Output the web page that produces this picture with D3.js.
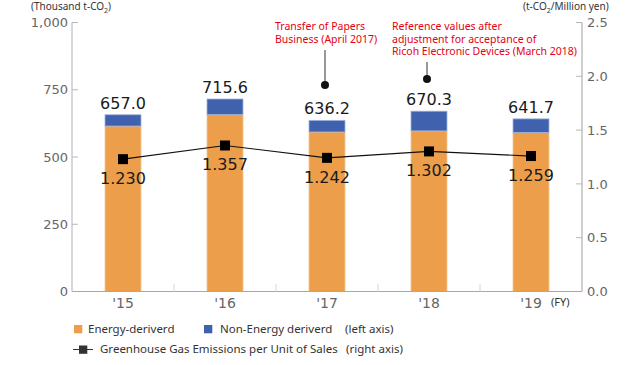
<!DOCTYPE html>
<html><head><meta charset="utf-8">
<script src="https://cdn.jsdelivr.net/npm/d3@7"></script>
<style>body{margin:0;background:#fff}svg{display:block}</style>
</head><body><svg id="c" width="640" height="365"></svg>
<script>
const categories = ["'15","'16","'17","'18","'19"];
const energy = [615.0, 657.5, 593.0, 597.0, 591.0];
const nonEnergy = [42.0, 58.1, 43.2, 73.3, 50.7];
const totals = [657.0, 715.6, 636.2, 670.3, 641.7];
const intensity = [1.230, 1.357, 1.242, 1.302, 1.259];
const leftTicks = [0, 250, 500, 750, 1000];
const rightTicks = [0, 0.5, 1.0, 1.5, 2.0, 2.5];
const annotations = [
  {cat: "'17", lines: ["Transfer of Papers", "Business (April 2017)"]},
  {cat: "'18", lines: ["Reference values after", "adjustment for acceptance of", "Ricoh Electronic Devices (March 2018)"]}
];

const svg = d3.select("#c");
const FONT = "DejaVu Sans";
const NFONT = "Noto Sans";
const x = d3.scaleBand().domain(categories).range([72, 582]).padding(0);
const yL = d3.scaleLinear().domain([0, 1000]).range([291.5, 22.5]);
const yR = d3.scaleLinear().domain([0, 2.5]).range([291.5, 22.5]);
const barW = 36;
const cx = c => x(c) + x.bandwidth() / 2;

// axes lines
svg.append("line").attr("x1", 72).attr("x2", 72).attr("y1", yL(1000)).attr("y2", yL(0)).attr("stroke", "#b0b0b0");
svg.append("line").attr("x1", 582).attr("x2", 582).attr("y1", yR(2.5)).attr("y2", yR(0)).attr("stroke", "#a0a0a0");

// left ticks
const lt = svg.append("g");
leftTicks.forEach(t => {
  lt.append("line").attr("x1", 72).attr("x2", 78).attr("y1", yL(t)).attr("y2", yL(t)).attr("stroke", "#b8b8b8");
  lt.append("text").attr("x", 68).attr("y", yL(t)).attr("dy", "0.36em").attr("text-anchor", "end")
    .attr("font-family", FONT).attr("font-size", 13).attr("fill", "#666").text(d3.format(",")(t));
});
// right ticks
rightTicks.forEach(t => {
  lt.append("line").attr("x1", 576).attr("x2", 582).attr("y1", yR(t)).attr("y2", yR(t)).attr("stroke", "#b8b8b8");
  lt.append("text").attr("x", 587).attr("y", yR(t)).attr("dy", "0.36em").attr("text-anchor", "start")
    .attr("font-family", FONT).attr("font-size", 13).attr("fill", "#666").text(d3.format(".1f")(t));
});

// bars
const bars = svg.append("g");
categories.forEach((c, i) => {
  bars.append("rect").attr("x", cx(c) - barW / 2).attr("width", barW)
    .attr("y", yL(energy[i])).attr("height", yL(0) - yL(energy[i]))
    .attr("fill", "#EC9E4A").attr("stroke", "#f5c594").attr("stroke-width", 0.8);
  bars.append("rect").attr("x", cx(c) - barW / 2).attr("width", barW)
    .attr("y", yL(energy[i] + nonEnergy[i])).attr("height", yL(energy[i]) - yL(energy[i] + nonEnergy[i]))
    .attr("fill", "#4061AD").attr("stroke", "#9fb3dd").attr("stroke-width", 0.8);
  bars.append("text").attr("x", cx(c)).attr("y", yL(totals[i]) - 6).attr("text-anchor", "middle")
    .attr("font-family", FONT).attr("font-size", 16).attr("fill", "#1a1a1a").text(d3.format(".1f")(totals[i]));
});

// baseline and category dividers
svg.append("line").attr("x1", 72).attr("x2", 582).attr("y1", 291.5).attr("y2", 291.5).attr("stroke", "#a8a8a8");
categories.slice(1).forEach(c => {
  svg.append("line").attr("x1", x(c)).attr("x2", x(c)).attr("y1", 284).attr("y2", 291.5).attr("stroke", "#d6d6d6");
});
categories.forEach(c => {
  svg.append("text").attr("x", cx(c)).attr("y", 308).attr("text-anchor", "middle")
    .attr("font-family", FONT).attr("font-size", 14).attr("fill", "#666").text(c);
});
svg.append("text").attr("x", 551).attr("y", 306).attr("font-family", NFONT).attr("font-size", 11).attr("fill", "#333").text("(FY)");

// line series
const line = d3.line().x((d, i) => cx(categories[i])).y(d => yR(d));
svg.append("path").attr("d", line(intensity)).attr("fill", "none").attr("stroke", "#111").attr("stroke-width", 1.2);
intensity.forEach((v, i) => {
  svg.append("rect").attr("x", cx(categories[i]) - 5).attr("y", yR(v) - 5).attr("width", 10).attr("height", 10).attr("fill", "#000");
  svg.append("text").attr("x", cx(categories[i])).attr("y", yR(v) + 25).attr("text-anchor", "middle")
    .attr("font-family", FONT).attr("font-size", 16).attr("fill", "#1a1a1a").text(d3.format(".3f")(v));
});

// annotations
const ann0 = annotations[0], ann1 = annotations[1];
[[ann0, 275, 50, 85], [ann1, 392, 62, 79]].forEach(([a, tx, ly1, dotY]) => {
  const t = svg.append("text").attr("font-family", NFONT).attr("font-size", 10.5).attr("fill", "#e50012");
  a.lines.forEach((s, k) => t.append("tspan").attr("x", tx).attr("y", 30 + k * 12.7).text(s));
  const px = cx(a.cat) - 2;
  svg.append("line").attr("x1", px).attr("x2", px).attr("y1", ly1).attr("y2", dotY).attr("stroke", "#333");
  svg.append("circle").attr("cx", px).attr("cy", dotY).attr("r", 4).attr("fill", "#111");
});

// axis titles
const t1 = svg.append("text").attr("x", 31).attr("y", 10).attr("font-family", NFONT).attr("font-size", 10).attr("fill", "#333");
t1.append("tspan").text("(Thousand t-CO");
t1.append("tspan").attr("font-size", 7).attr("dy", 2.5).text("2");
t1.append("tspan").attr("dy", -2.5).text(")");
const t2 = svg.append("text").attr("x", 523).attr("y", 10).attr("font-family", NFONT).attr("font-size", 10).attr("fill", "#333");
t2.append("tspan").text("(t-CO");
t2.append("tspan").attr("font-size", 7).attr("dy", 2.5).text("2");
t2.append("tspan").attr("dy", -2.5).text("/Million yen)");

// legend
const lg = svg.append("g").attr("font-family", NFONT).attr("font-size", 11.5).attr("fill", "#333");
lg.append("rect").attr("x", 74).attr("y", 325).attr("width", 8.3).attr("height", 8.3).attr("fill", "#EC9E4A");
lg.append("text").attr("x", 88).attr("y", 333).text("Energy-deriverd");
lg.append("rect").attr("x", 204).attr("y", 325).attr("width", 8.3).attr("height", 8.3).attr("fill", "#4061AD");
lg.append("text").attr("x", 220).attr("y", 333).text("Non-Energy deriverd");
lg.append("text").attr("x", 345).attr("y", 333).text("(left axis)");
lg.append("line").attr("x1", 73).attr("x2", 93).attr("y1", 349.5).attr("y2", 349.5).attr("stroke", "#333");
lg.append("rect").attr("x", 79).attr("y", 345.5).attr("width", 8.3).attr("height", 8.3).attr("fill", "#333");
lg.append("text").attr("x", 100).attr("y", 353).text("Greenhouse Gas Emissions per Unit of Sales");
lg.append("text").attr("x", 346).attr("y", 353).text("(right axis)");
</script></body></html>
